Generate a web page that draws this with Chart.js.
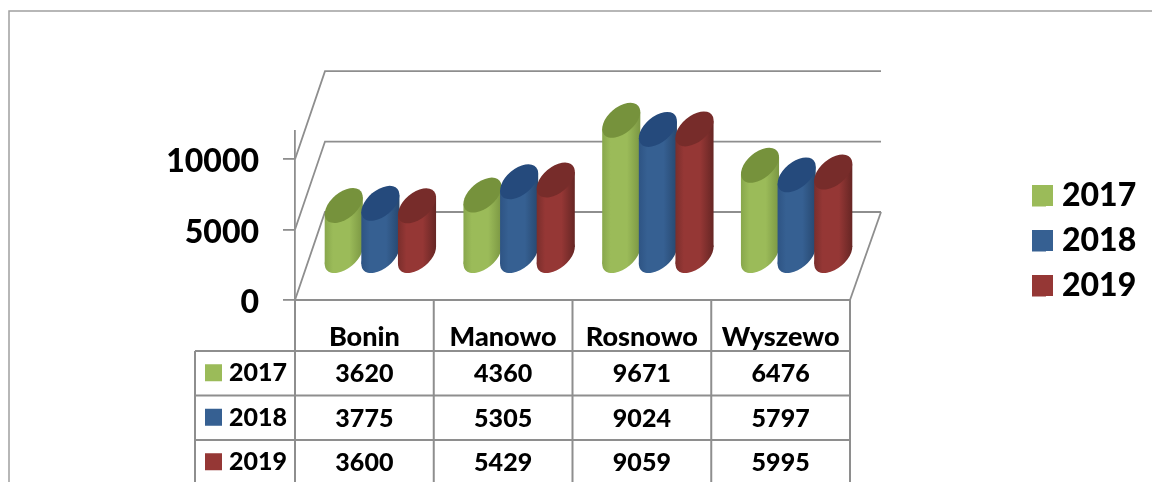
<!DOCTYPE html>
<html><head><meta charset="utf-8">
<style>html,body{margin:0;padding:0;background:#fff}canvas{display:block}#w{width:1152px;height:482px}</style>
<script src="https://cdn.jsdelivr.net/npm/chart.js@4/dist/chart.umd.min.js"></script>
</head><body><div id="w"><canvas id="c" width="1152" height="482"></canvas></div>
<script>
const categories = ['Bonin','Manowo','Rosnowo','Wyszewo'];
const seriesNames = ['2017','2018','2019'];
const values2017 = [3620,4360,9671,6476];
const values2018 = [3775,5305,9024,5797];
const values2019 = [3600,5429,9059,5995];
const allValues = [values2017,values2018,values2019];
const yTicks = [0,5000,10000];
const colors = ['#9BBB59','#366092','#953735'];
const capColors = ['#76923C','#254A7C','#772C2A'];
const edgeColors = [['#88A74C','#7B9743'],['#2E5484','#274870'],['#7A2E2C','#662624']];
const lineColor = '#8E8E8E';
const FONT = 'Lato, Carlito, sans-serif';
const DX = 16, DY = -43.5, WALLX = 30, WALLY = -88;

function cylinder(ctx, x, top, base, w, i){
  const a = w*0.61, b = w*0.355, th = -40*Math.PI/180;
  const t = Math.atan(-(b/a)*Math.tan(th));
  const px = a*Math.cos(t)*Math.cos(th) - b*Math.sin(t)*Math.sin(th);
  const py = a*Math.cos(t)*Math.sin(th) + b*Math.sin(t)*Math.cos(th);
  const hw = Math.abs(px), off = px>0 ? py : -py;
  const g = ctx.createLinearGradient(x-hw,0,x+hw,0);
  g.addColorStop(0,edgeColors[i][0]);
  g.addColorStop(0.22,colors[i]);
  g.addColorStop(0.65,colors[i]);
  g.addColorStop(1,edgeColors[i][1]);
  ctx.fillStyle = g;
  ctx.beginPath(); ctx.ellipse(x,base,a,b,th,0,Math.PI*2); ctx.fill();
  ctx.beginPath();
  ctx.moveTo(x-hw,top-off); ctx.lineTo(x+hw,top+off);
  ctx.lineTo(x+hw,base+off); ctx.lineTo(x-hw,base-off);
  ctx.closePath(); ctx.fill();
  ctx.fillStyle = capColors[i];
  ctx.beginPath(); ctx.ellipse(x,top,a,b,th,0,Math.PI*2); ctx.fill();
}

const scene = {
  id:'scene',
  afterLayout(chart){
    const l = chart.legend;
    l.left = 1019; l.right = 1152; l.top = 167; l.bottom = 330;
  },
  beforeDraw(chart){
    chart.scales.y.getLabelItems(chart.chartArea).forEach(it=>{
      if(!it._moved){ it.options.translation[1] += 3; it._moved = true; }
    });
  },
  beforeDatasetsDraw(chart){
    const ctx = chart.ctx, ya = chart.scales.y, ca = chart.chartArea;
    ctx.save();
    ctx.strokeStyle = lineColor; ctx.lineWidth = 1.8;
    ya.ticks.forEach(t=>{
      const y = ya.getPixelForValue(t.value);
      ctx.beginPath();
      ctx.moveTo(ca.left,y); ctx.lineTo(ca.left+WALLX,y+WALLY); ctx.lineTo(ca.right+WALLX+1,y+WALLY);
      ctx.stroke();
    });
    ctx.beginPath();
    ctx.moveTo(ca.right,ca.bottom); ctx.lineTo(ca.right+WALLX+1,ca.bottom+WALLY); ctx.stroke();
    ctx.restore();
  },
  beforeDatasetDraw(){ return false; },
  afterDatasetsDraw(chart){
    const ctx = chart.ctx;
    seriesNames.forEach((s,i)=>{
      chart.getDatasetMeta(i).data.forEach(el=>{
        cylinder(ctx,el.x+DX,el.y+DY,el.base+DY,el.width,i);
      });
    });
  },
  afterDraw(chart){
    const ctx = chart.ctx, xa = chart.scales.x, ca = chart.chartArea;
    ctx.save();
    ctx.strokeStyle = '#A0A0A0'; ctx.lineWidth = 1.5;
    ctx.beginPath(); ctx.moveTo(9,490); ctx.lineTo(9,11); ctx.lineTo(1160,11); ctx.stroke();
    const rowY = [351,395.5,440,484.5];
    const keyLeft = 195;
    ctx.strokeStyle = lineColor; ctx.lineWidth = 2;
    const step = (ca.right-ca.left)/categories.length;
    ctx.beginPath();
    ctx.moveTo(ca.left,ca.bottom); ctx.lineTo(ca.right,ca.bottom);
    for(let k=0;k<=categories.length;k++){
      const x = ca.left+k*step;
      ctx.moveTo(x,ca.bottom); ctx.lineTo(x,490);
    }
    ctx.moveTo(keyLeft,rowY[0]); ctx.lineTo(keyLeft,490);
    rowY.forEach(y=>{ctx.moveTo(keyLeft,y); ctx.lineTo(ca.right,y);});
    ctx.stroke();
    ctx.textBaseline = 'middle';
    ctx.font = '900 25px '+FONT;
    seriesNames.forEach((s,r)=>{
      const cy = (rowY[r]+rowY[r+1])/2;
      ctx.fillStyle = colors[r]; ctx.fillRect(205,cy-9,17,17);
      ctx.fillRect(1032,185+45*r,21,21);
      ctx.fillStyle = '#000'; ctx.textAlign = 'left';
      ctx.fillText(s,229,cy);
      ctx.textAlign = 'center';
      categories.forEach((c,k)=>{
        ctx.fillText(String(allValues[r][k]),xa.getPixelForValue(k),cy+1);
      });
    });
    ctx.restore();
  }
};

new Chart(document.getElementById('c'),{
  type:'bar',
  data:{
    labels:categories,
    datasets:seriesNames.map((s,i)=>({
      label:s,data:allValues[i],backgroundColor:colors[i],borderWidth:0,
      clip:false,categoryPercentage:0.792,barPercentage:1
    }))
  },
  plugins:[scene],
  options:{
    responsive:false,animation:false,
    layout:{padding:{left:0,right:302,top:131,bottom:0}},
    plugins:{
      title:{display:false},tooltip:{enabled:false},
      legend:{
        display:true,position:'chartArea',align:'start',
        labels:{boxWidth:14,boxHeight:21,padding:13,color:'#000',font:{family:FONT,size:32,weight:900}}
      }
    },
    scales:{
      x:{
        grid:{display:false},border:{display:false},
        afterFit(a){a.height=182;},
        ticks:{color:'#000',padding:13,maxRotation:0,autoSkip:false,font:{family:FONT,size:27,weight:900}}
      },
      y:{
        min:0,max:12000,
        afterFit(a){a.width=295;},
        afterBuildTicks(a){a.ticks=yTicks.map(v=>({value:v}));},
        border:{display:true,color:lineColor,width:1.8},
        grid:{drawOnChartArea:false,drawTicks:true,tickLength:12,color:lineColor,lineWidth:1.8},
        ticks:{color:'#000',padding:24,callback:v=>String(v),font:{family:FONT,size:32,weight:900}}
      }
    }
  }
});
</script></body></html>
